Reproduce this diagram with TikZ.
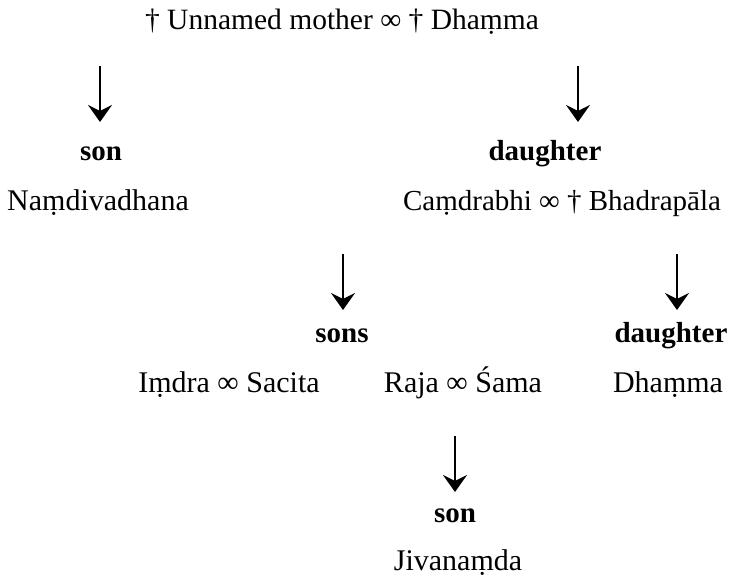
\documentclass[tikz,border=0pt]{standalone}
\usepackage{fontspec}
\setmainfont{Liberation Serif}
\usetikzlibrary{arrows.meta}
\begin{document}
\begin{tikzpicture}[x=1pt,y=-1pt,
  txt/.style={anchor=base,inner sep=0pt,font=\fontsize{30}{36}\selectfont},
  hd/.style={anchor=base,inner sep=0pt,font=\fontsize{29}{36}\selectfont\bfseries},
  arr/.style={line width=2pt,-{Stealth[length=17pt,width=24pt,inset=6pt]}}]
\useasboundingbox (0,0) rectangle (731,578);
\node[txt,font=\fontsize{29.5}{36}\selectfont] (top) at (342,30) {† Unnamed mother ∞ † Dhaṃma};
\coordinate (a1s) at (100,66); \coordinate (a1e) at (100,122);
\coordinate (a2s) at (578,66); \coordinate (a2e) at (578,122);
\draw[arr] (a1s) -- (a1e);
\draw[arr] (a2s) -- (a2e);
\node[hd] (son1) at (101,160) {son};
\node[hd] (dau1) at (545,160) {daughter};
\node[txt] (nam) at (98,210) {Naṃdivadhana};
\node[txt,font=\fontsize{29}{36}\selectfont] (cam) at (562,210) {Caṃdrabhi ∞ † Bhadrapāla};
\coordinate (a3s) at (343,254); \coordinate (a3e) at (343,310);
\coordinate (a4s) at (677,254); \coordinate (a4e) at (677,310);
\draw[arr] (a3s) -- (a3e);
\draw[arr] (a4s) -- (a4e);
\node[hd] (sons) at (342,342) {sons};
\node[hd] (dau2) at (671,342) {daughter};
\node[txt] (imd) at (229,392) {Iṃdra ∞ Sacita};
\node[txt] (raj) at (463,392) {Raja ∞ Śama};
\node[txt] (dha) at (668,392) {Dhaṃma};
\coordinate (a5s) at (455,436); \coordinate (a5e) at (455,492);
\draw[arr] (a5s) -- (a5e);
\node[hd] (son2) at (455,522) {son};
\node[txt] (jiv) at (458,570) {Jivanaṃda};
\end{tikzpicture}
\end{document}
